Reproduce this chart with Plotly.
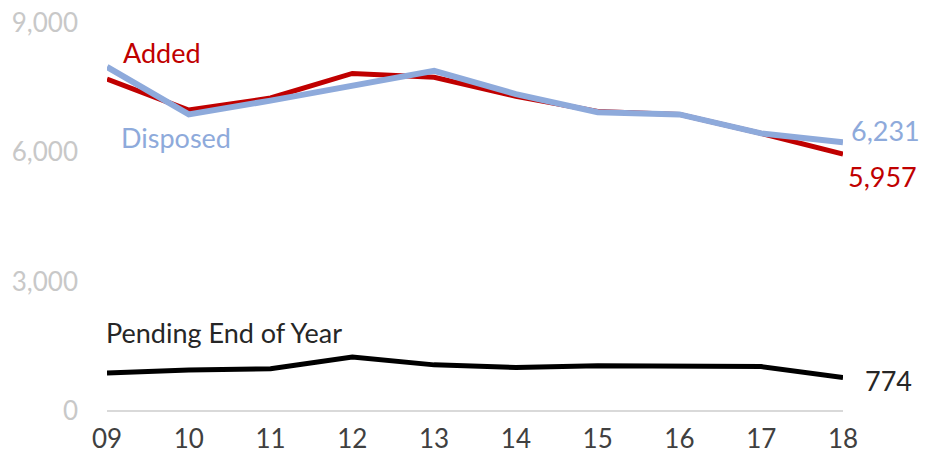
import plotly.graph_objects as go

years = ["09", "10", "11", "12", "13", "14", "15", "16", "17", "18"]
added = [7700, 6980, 7260, 7830, 7740, 7300, 6950, 6880, 6440, 5957]
disposed = [7980, 6880, 7200, 7540, 7890, 7350, 6930, 6880, 6440, 6231]
pending = [880, 950, 980, 1250, 1070, 1010, 1050, 1030, 1030, 774]

y_ticks = [0, 3000, 6000, 9000]

RED = "#c00000"
BLUE = "#8eaadb"
BLACK = "#000000"
FONT = "Lato"
LBL = 27

fig = go.Figure()
fig.add_trace(go.Scatter(x=years, y=added, mode="lines", name="Added",
                         line=dict(color=RED, width=5), cliponaxis=False))
fig.add_trace(go.Scatter(x=years, y=disposed, mode="lines", name="Disposed",
                         line=dict(color=BLUE, width=6), cliponaxis=False))
fig.add_trace(go.Scatter(x=years, y=pending, mode="lines", name="Pending End of Year",
                         line=dict(color=BLACK, width=5), cliponaxis=False))

first, last = 0, len(years) - 1

# series labels
fig.add_annotation(x=first, y=added[0], text="Added", showarrow=False,
                   xanchor="left", xshift=14, yshift=27, font=dict(color=RED, size=LBL))
fig.add_annotation(x=first, y=disposed[0], text="Disposed", showarrow=False,
                   xanchor="left", xshift=12, yshift=-71, font=dict(color=BLUE, size=LBL))
fig.add_annotation(x=first, y=pending[0], text="Pending End of Year", showarrow=False,
                   xanchor="left", xshift=-3, yshift=41, font=dict(color="#262626", size=LBL))

# end values
fig.add_annotation(x=last, y=disposed[-1], text=f"{disposed[-1]:,}", showarrow=False,
                   xanchor="left", xshift=6, yshift=12, font=dict(color=BLUE, size=LBL))
fig.add_annotation(x=last, y=added[-1], text=f"{added[-1]:,}", showarrow=False,
                   xanchor="left", xshift=3, yshift=-22, font=dict(color=RED, size=LBL))
fig.add_annotation(x=last, y=pending[-1], text=f"{pending[-1]:,}", showarrow=False,
                   xanchor="left", xshift=20, yshift=-3, font=dict(color="#262626", size=LBL))

# page body has an 8px margin, so the margins are offset to compensate
fig.update_layout(
    width=931, height=464,
    margin=dict(l=99, r=96, t=15, b=61),
    paper_bgcolor="white", plot_bgcolor="white",
    showlegend=False,
    font=dict(family=FONT, size=26),
    xaxis=dict(showgrid=False, zeroline=False, showline=False, ticks="",
               range=[0, 9], tickfont=dict(color="#404040", size=26),
               ticklabelstandoff=10, automargin=False, ticklabeloverflow="allow"),
    yaxis=dict(showgrid=False, zeroline=True, zerolinecolor="#d9d9d9", zerolinewidth=2,
               showline=False, ticks="", range=[0, 9000], tickvals=y_ticks,
               tickformat=",", tickfont=dict(color="#c8c8c8", size=26),
               ticklabelstandoff=28, automargin=False, ticklabeloverflow="allow"),
)

fig.write_html("out.html")
